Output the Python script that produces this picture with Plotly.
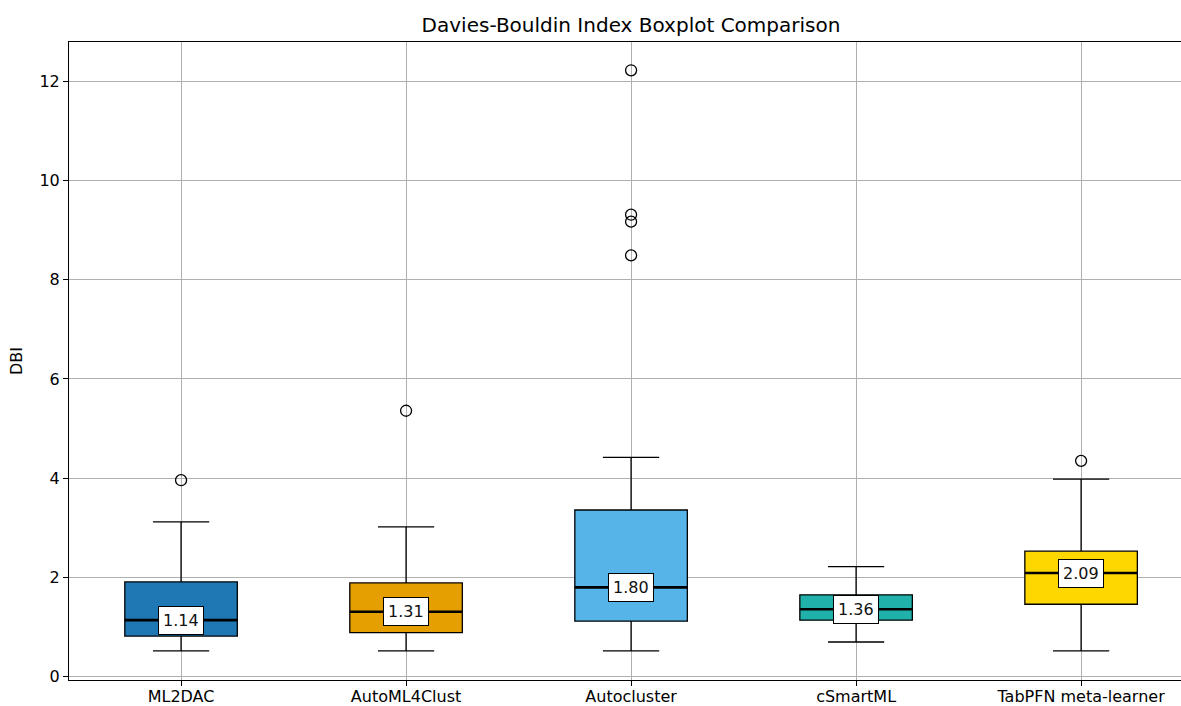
import plotly.graph_objects as go

# Per-method Davies-Bouldin Index summary statistics
methods = ["ML2DAC", "AutoML4Clust", "Autocluster", "cSmartML", "TabPFN meta-learner"]
lower_whisker = [0.52, 0.52, 0.52, 0.70, 0.52]
q1 = [0.82, 0.89, 1.12, 1.14, 1.46]
median = [1.14, 1.31, 1.80, 1.36, 2.09]
q3 = [1.91, 1.89, 3.36, 1.65, 2.53]
upper_whisker = [3.12, 3.02, 4.42, 2.22, 3.98]
outliers = [
    [3.96],
    [5.36],
    [12.22, 9.31, 9.17, 8.49],
    [],
    [4.35],
]
colors = ["#1f77b4", "#E69F00", "#56B4E9", "#20B2AA", "#FFD700"]

positions = list(range(1, len(methods) + 1))
BOX_W = 0.5
FONT = "DejaVu Sans"

fig = go.Figure()

for i, name in enumerate(methods):
    p = positions[i]
    fig.add_trace(go.Box(
        x=[p], q1=[q1[i]], median=[median[i]], q3=[q3[i]],
        lowerfence=[lower_whisker[i]], upperfence=[upper_whisker[i]],
        width=BOX_W, whiskerwidth=0.5,
        fillcolor=colors[i], line=dict(color="black", width=1.3),
        boxpoints=False, name=name, showlegend=False, hoverinfo="skip",
    ))
    # thick median line across the box
    fig.add_trace(go.Scatter(
        x=[p - BOX_W / 2, p + BOX_W / 2], y=[median[i], median[i]],
        mode="lines", line=dict(color="black", width=2.6),
        showlegend=False, hoverinfo="skip",
    ))
    if outliers[i]:
        fig.add_trace(go.Scatter(
            x=[p] * len(outliers[i]), y=outliers[i], mode="markers",
            marker=dict(symbol="circle-open", size=11, color="black",
                        line=dict(width=1.3)),
            showlegend=False, hoverinfo="skip",
        ))
    fig.add_annotation(
        x=p, y=median[i], text=f"{median[i]:.2f}", showarrow=False,
        font=dict(family=FONT, size=16, color="#111111"),
        bgcolor="white", bordercolor="black", borderwidth=1, borderpad=4,
        xanchor="center", yanchor="middle",
    )

fig.update_layout(
    width=1181, height=706,
    margin=dict(l=69, r=0, t=42, b=26),
    paper_bgcolor="white", plot_bgcolor="white",
    boxmode="overlay",
    font=dict(family=FONT, size=16, color="black"),
    title=dict(text="Davies-Bouldin Index Boxplot Comparison",
               x=0.5054, xref="paper", xanchor="center",
               y=1 - 25 / 706, yref="container", yanchor="middle",
               font=dict(family=FONT, size=20, color="black")),
)
fig.update_xaxes(
    range=[0.502, 5.444], tickmode="array", tickvals=positions, ticktext=methods,
    showgrid=True, gridcolor="#b0b0b0", gridwidth=1,
    showline=True, linecolor="black", linewidth=1, mirror=True,
    ticks="outside", ticklen=5, tickcolor="black", zeroline=False,
    tickfont=dict(family=FONT, size=16, color="black"),
    ticklabelstandoff=-3,
    automargin=False,
)
fig.update_yaxes(
    range=[-0.066, 12.79], tickmode="array", tickvals=[0, 2, 4, 6, 8, 10, 12],
    showgrid=True, gridcolor="#b0b0b0", gridwidth=1,
    showline=True, linecolor="black", linewidth=1, mirror=False,
    ticks="outside", ticklen=5, tickcolor="black", zeroline=False,
    tickfont=dict(family=FONT, size=16, color="black"),
    title=dict(text="DBI", font=dict(family=FONT, size=16, color="black"), standoff=12),
    automargin=False,
)

fig.write_html("out.html")
